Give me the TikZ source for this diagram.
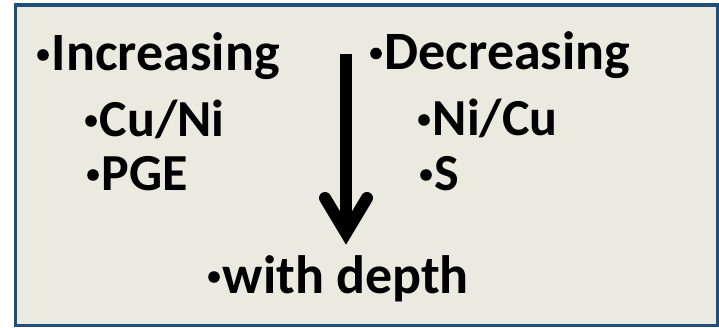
\documentclass[tikz,border=0pt]{standalone}
\usepackage{fontspec}
\setmainfont{Carlito}
\definecolor{frameblue}{HTML}{1F4E78}
\definecolor{paper}{HTML}{EAEAE0}
\newcommand\mybul{\tikz[baseline=0pt]\fill (5.8pt,16pt) circle[radius=5.8pt];\hspace{3pt}}
\tikzset{
  lbl/.style={anchor=base west, inner sep=0pt, font=\bfseries\fontsize{54}{54}\selectfont},
  sublbl/.style={anchor=base west, inner sep=0pt, font=\bfseries\fontsize{52}{52}\selectfont},
}
\begin{document}
\begin{tikzpicture}[x=1pt,y=-1pt]
\useasboundingbox (0,0) rectangle (719,328);
\fill[white] (0,0) rectangle (719,328);
\draw[frameblue, fill=paper, line width=3.3pt] (15.7,5) rectangle (717.4,325.3);
\node[lbl] (inc) at (37,71) {\mybul Increasing};
\node[sublbl] (cuni) at (85,137) {\mybul Cu/Ni};
\node[sublbl] (pge) at (87,191) {\mybul PGE};
\node[lbl] (dec) at (370,69.5) {\mybul Decreasing};
\node[sublbl] (nicu) at (418,136) {\mybul Ni/Cu};
\node[sublbl] (s) at (420,191) {\mybul S};
\node[lbl] (depth) at (208,293) {\mybul with depth};
\coordinate (top) at (346,54);
\coordinate (vert) at (346,233);
\coordinate (la) at (325,198);
\coordinate (ra) at (367,198);
\draw[line width=12pt] (top) -- (vert);
\draw[line width=12pt, line cap=round, line join=miter] (la) -- (vert) -- (ra);
\end{tikzpicture}
\end{document}
